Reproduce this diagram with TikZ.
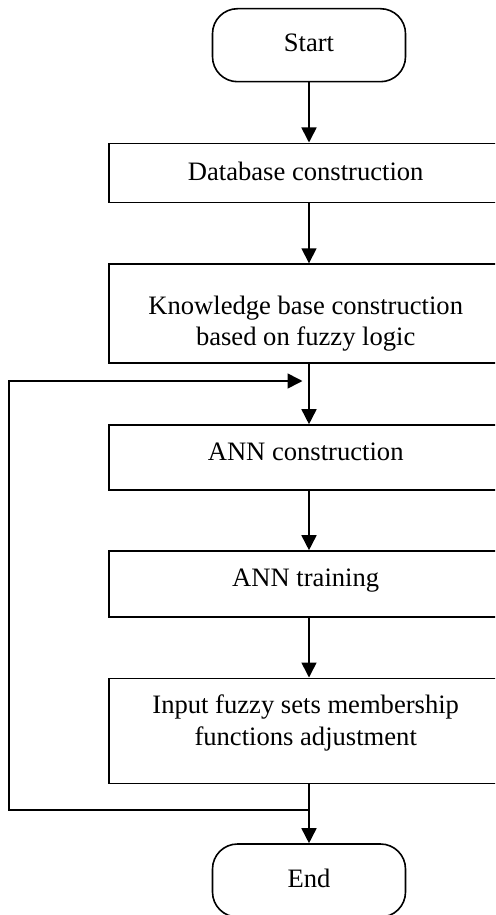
\documentclass[tikz,border=0pt]{standalone}
\usepackage{fontspec}
\setmainfont{Liberation Serif}
\usetikzlibrary{arrows.meta}
\begin{document}
\begin{tikzpicture}[x=1pt,y=-1pt, line width=1.6pt,
  box/.style={draw, rectangle, minimum width=400pt, inner sep=0pt},
  term/.style={draw, rectangle, rounded corners=25pt, minimum width=193pt, minimum height=73pt, inner sep=0pt},
  txt/.style={anchor=base, inner sep=0pt, font=\fontsize{26.6}{31.5}\selectfont},
  arr/.style={-{Triangle[length=15pt,width=15pt]}}]
\clip (0,0) rectangle (495,915);
% terminals and boxes
\node[term] (start) at (309,45.2) {};
\node[box, minimum height=59pt] (db) at (309,172.8) {};
\node[box, minimum height=99pt] (kb) at (309,313.6) {};
\node[box, minimum height=65pt] (annc) at (309,457.5) {};
\node[box, minimum height=66pt] (annt) at (309,584) {};
\node[box, minimum height=105pt] (inp) at (309,730.8) {};
\node[term] (end) at (309,880.5) {};
% texts
\node[txt] (tstart) at (309,52) {Start};
\node[txt] (tdb) at (305.7,180) {Database construction};
\node[txt] (tkb1) at (305.7,314.5) {Knowledge base construction};
\node[txt] (tkb2) at (305.7,345.5) {based on fuzzy logic};
\node[txt] (tannc) at (305.7,460) {ANN construction};
\node[txt] (tannt) at (305.7,586.7) {ANN training};
\node[txt] (tinp1) at (305.7,713.3) {Input fuzzy sets membership};
\node[txt] (tinp2) at (305.7,745) {functions adjustment};
\node[txt] (tend) at (309,887.7) {End};
% connectors
\draw[arr] (start.south) -- (db.north);
\draw[arr] (db.south) -- (kb.north);
\draw[arr] (kb.south) -- (annc.north);
\draw[arr] (annc.south) -- (annt.north);
\draw[arr] (annt.south) -- (inp.north);
\draw[arr] (inp.south) -- (end.north);
% feedback loop
\coordinate (j) at (309,810);
\coordinate (lb) at (9,810);
\coordinate (lt) at (9,381);
\coordinate (tip) at (302.5,381);
\draw[arr] (j) -- (lb) -- (lt) -- (tip);
\end{tikzpicture}
\end{document}
